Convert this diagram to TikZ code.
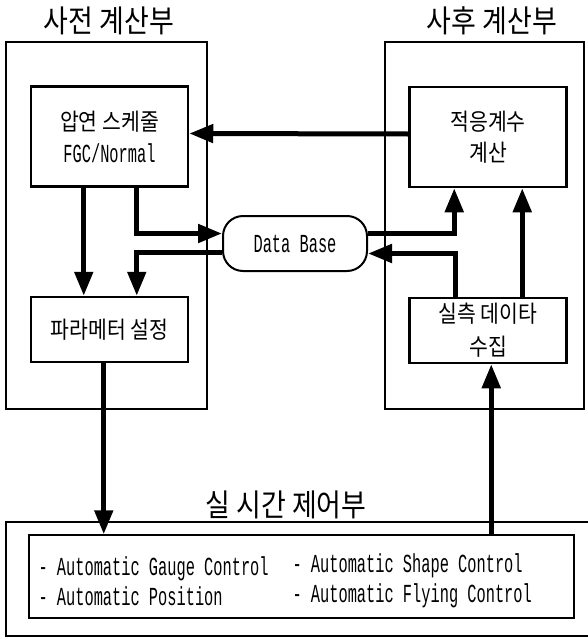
\documentclass[tikz,border=0pt]{standalone}
\usepackage{fontspec}
\usetikzlibrary{arrows.meta}
\newfontfamily\kofont[FakeStretch=0.87]{Noto Sans CJK KR}
\newfontfamily\latfont[FakeStretch=0.59]{Liberation Mono}
\newcommand{\lat}[1]{{\latfont\fontsize{26}{33}\selectfont #1}}
\tikzset{
  zone/.style={draw,line width=1.2pt,inner sep=0pt},
  zonetitle/.style={font=\kofont\fontsize{31}{36}\selectfont},
  stage/.style={draw,line width=2.5pt,inner sep=0pt,minimum width=157pt,align=center,font=\kofont\fontsize{23.5}{28}\selectfont},
  store/.style={draw,line width=2pt,rounded corners=20pt,inner sep=0pt,minimum width=144pt,minimum height=55pt},
  listtext/.style={anchor=west,align=left,font=\latfont\fontsize{26}{30}\selectfont},
  flow/.style={line width=5pt,-{Triangle[length=24pt,width=18pt]}}
}
\begin{document}
\begin{tikzpicture}[x=1pt,y=-1pt]
\useasboundingbox (0,0) rectangle (587,637);
\node[zone,minimum width=201pt,minimum height=367pt] (pre) at (106.5,225.5) {};
\node[zone,minimum width=199pt,minimum height=367pt] (post) at (484.5,225.5) {};
\node[zone,minimum width=594pt,minimum height=114pt] (rt) at (303,579) {};
\node[zonetitle] (pretitle) at (109,21) {사전 계산부};
\node[zonetitle] (posttitle) at (492,21) {사후 계산부};
\node[zonetitle] (rttitle) at (286,505) {실 시간 제어부};
\node[stage,minimum height=100pt] (sched) at (109.5,136.5) {압연 스케줄\\[4pt]\lat{FGC/Normal}};
\node[stage,minimum height=65pt] (param) at (109.5,329.5) {파라메터 설정};
\node[stage,minimum height=100pt] (adapt) at (488,137) {적응계수\\[3pt]계산};
\node[stage,minimum height=65pt] (meas) at (488,330.5) {실측 데이타\\[5pt]수집};
\node[store] (db) at (295,243.5) {\lat{Data Base}};
\node[draw,line width=1.5pt,minimum width=545pt,minimum height=83pt] (list) at (301.5,576.5) {};
\node[listtext] (colA) at (35,581) {- Automatic Gauge Control\\- Automatic Position};
\node[listtext] (colB) at (289,581) {- Automatic Shape Control\\- Automatic Flying Control};
\coordinate (pout) at ([xshift=74pt]param.south west);
\coordinate (min) at ([xshift=83pt]meas.south west);
\draw[flow] ([yshift=3pt]adapt.west) -- ([yshift=3pt]sched.east);
\draw[flow] ([xshift=54pt]sched.south west) -- ([xshift=54pt]param.north west);
\draw[flow] ([xshift=107pt]sched.south west) |- ([yshift=10pt]db.west);
\draw[flow] ([yshift=-9pt]db.west) -| ([xshift=107pt]param.north west);
\draw[flow] ([yshift=10pt]db.east) -| ([xshift=46pt]adapt.south west);
\draw[flow] ([xshift=47pt]meas.north west) |- ([yshift=-10pt]db.east);
\draw[flow] ([xshift=114pt]meas.north west) -- ([xshift=114pt]adapt.south west);
\draw[flow] (pout) -- (pout |- list.north);
\draw[flow] (min |- list.north) -- (min);
\end{tikzpicture}
\end{document}
